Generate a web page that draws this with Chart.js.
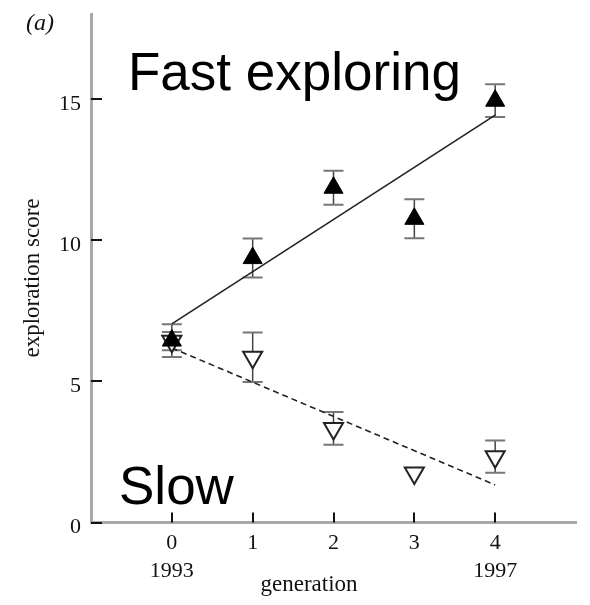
<!DOCTYPE html>
<html>
<head>
<meta charset="utf-8">
<script src="https://cdn.jsdelivr.net/npm/chart.js@4.4.1/dist/chart.umd.min.js"></script>
<style>
  html, body { margin: 0; padding: 0; background: #fff; }
  #wrap { width: 590px; height: 605px; }
</style>
</head>
<body>
<div id="wrap"><canvas id="c"></canvas></div>
<script>
// generation 0..4 (1993..1997), fast and slow exploring selection lines
var generations = [0, 1, 2, 3, 4];
var yearLabels = ["1993", "", "", "", "1997"];
var yTicks = [0, 5, 10, 15];

var fastMean = [6.44, 9.36, 11.85, 10.75, 14.93];
var fastErr  = [0.58, 0.69, 0.60, 0.69, 0.58];
var slowMean = [6.42, 5.85, 3.33, 1.75, 2.33];
var slowErr  = [0.32, 0.88, 0.58, 0, 0.57];

// regression lines (value at generation 0 and 4)
var fastFit = [7.03, 14.42];
var slowFit = [6.18, 1.33];

var serif = "'Liberation Serif', 'Times New Roman', serif";
var sans = "'Liberation Sans', Arial, sans-serif";

function pts(ys) { return ys.map(function (v, i) { return { x: generations[i], y: v }; }); }
function fitPts(f) { return [{ x: 0, y: f[0] }, { x: 4, y: f[1] }]; }

// error bars, drawn behind the markers
var errorBars = {
  id: "errorBars",
  beforeDatasetsDraw: function (chart) {
    var ctx = chart.ctx, x = chart.scales.x, y = chart.scales.y;
    [[fastMean, fastErr], [slowMean, slowErr]].forEach(function (s) {
      generations.forEach(function (g, i) {
        var e = s[1][i];
        if (!e) return;
        var px = x.getPixelForValue(g);
        var t = y.getPixelForValue(s[0][i] + e), b = y.getPixelForValue(s[0][i] - e);
        ctx.save();
        ctx.strokeStyle = "#444";
        ctx.lineWidth = 1.5;
        ctx.beginPath(); ctx.moveTo(px, t); ctx.lineTo(px, b); ctx.stroke();
        ctx.strokeStyle = "#777";
        ctx.lineWidth = 2;
        ctx.beginPath();
        ctx.moveTo(px - 10, t); ctx.lineTo(px + 10, t);
        ctx.moveTo(px - 10, b); ctx.lineTo(px + 10, b);
        ctx.stroke();
        ctx.restore();
      });
    });
  }
};

// inward tick marks and the free texts
var decor = {
  id: "decor",
  afterDraw: function (chart) {
    var ctx = chart.ctx, x = chart.scales.x, y = chart.scales.y, a = chart.chartArea;
    ctx.save();
    ctx.strokeStyle = "#111";
    ctx.lineWidth = 2;
    ctx.beginPath();
    generations.forEach(function (g) {
      var px = Math.round(x.getPixelForValue(g));
      ctx.moveTo(px, a.bottom); ctx.lineTo(px, a.bottom - 10);
    });
    yTicks.forEach(function (v) {
      var py = Math.round(y.getPixelForValue(v));
      ctx.moveTo(a.left, py); ctx.lineTo(a.left + 11, py);
    });
    ctx.stroke();

    ctx.fillStyle = "#111";
    ctx.textBaseline = "middle";
    ctx.textAlign = "center";
    ctx.font = "23px " + serif;
    ctx.fillText("generation", 309, 585);
    ctx.save();
    ctx.translate(33, 278);
    ctx.rotate(-Math.PI / 2);
    ctx.fillText("exploration score", 0, 0);
    ctx.restore();

    ctx.textAlign = "left";
    ctx.font = "italic 24px " + serif;
    ctx.fillText("(a)", 26, 24);

    ctx.fillStyle = "#000";
    ctx.textBaseline = "alphabetic";
    ctx.font = "53px " + sans;
    ctx.fillText("Fast exploring", 128, 90);
    ctx.fillText("Slow", 119, 504);
    ctx.restore();
  }
};

new Chart(document.getElementById("c"), {
  type: "scatter",
  data: {
    datasets: [
      { data: pts(fastMean), pointStyle: "triangle", radius: 11, backgroundColor: "#000", borderColor: "#000", borderWidth: 1 },
      { data: pts(slowMean), pointStyle: "triangle", rotation: 180, radius: 11, backgroundColor: "#fff", borderColor: "#222", borderWidth: 2 },
      { type: "line", data: fitPts(fastFit), borderColor: "#222", borderWidth: 1.6, pointRadius: 0, fill: false },
      { type: "line", data: fitPts(slowFit), borderColor: "#222", borderWidth: 1.6, borderDash: [6, 4], pointRadius: 0, fill: false }
    ]
  },
  options: {
    responsive: true, maintainAspectRatio: false, animation: false,
    layout: { padding: { top: 14, right: 14, left: 0, bottom: 0 } },
    plugins: { legend: { display: false }, tooltip: { enabled: false } },
    scales: {
      x: {
        type: "linear", min: -1, max: 5,
        afterBuildTicks: function (s) { s.ticks = generations.map(function (v) { return { value: v }; }); },
        afterFit: function (s) { s.height = 82.5; s.paddingLeft = 0; s.paddingRight = 0; },
        grid: { display: false, drawTicks: false },
        border: { color: "#a8a8a8", width: 3 },
        ticks: {
          padding: 7, color: "#111",
          font: { family: serif, size: 22, lineHeight: 1.25 },
          callback: function (v) {
            var i = generations.indexOf(v);
            return yearLabels[i] ? [String(v), yearLabels[i]] : String(v);
          }
        }
      },
      y: {
        type: "linear", min: 0, max: 18,
        afterBuildTicks: function (s) { s.ticks = yTicks.map(function (v) { return { value: v }; }); },
        afterFit: function (s) { s.width = 91; s.paddingTop = 0; s.paddingBottom = 0; },
        grid: { display: false, drawTicks: false },
        border: { color: "#a8a8a8", width: 3 },
        ticks: { padding: 10, labelOffset: 5, color: "#111", font: { family: serif, size: 22 } }
      }
    }
  },
  plugins: [errorBars, decor]
});
</script>
</body>
</html>
